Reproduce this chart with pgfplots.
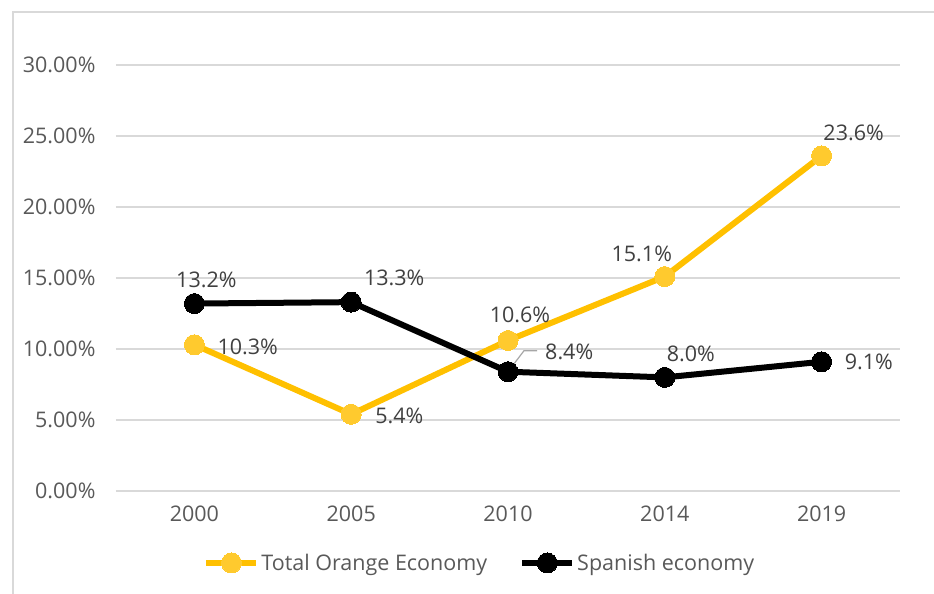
\documentclass[border=0pt]{standalone}
\usepackage{pgfplots}
\pgfplotsset{compat=1.18}
\usepackage{fontspec}
\setmainfont{Open Sans}
\definecolor{orangeline}{HTML}{FFC000}
\definecolor{orangemark}{HTML}{FFCA2E}
\definecolor{lbl}{HTML}{404040}
\definecolor{tickc}{HTML}{595959}
\definecolor{gridc}{HTML}{D9D9D9}
\begin{document}
\begin{tikzpicture}
\begin{axis}[
  scale only axis, width=784pt, height=426pt,
  xmin=-0.5, xmax=4.5, ymin=0, ymax=30,
  axis line style={draw=none}, tick style={draw=none},
  ymajorgrids, grid style={gridc, line width=1.5pt},
  xtick={0,1,2,3,4}, xticklabels={2000,2005,2010,2014,2019},
  ytick={0,5,10,15,20,25,30},
  yticklabels={0.00\%,5.00\%,10.00\%,15.00\%,20.00\%,25.00\%,30.00\%},
  tick label style={font=\fontsize{21.5}{25}\selectfont, text=tickc},
  xticklabel style={yshift=-11pt},
  yticklabel style={xshift=-17pt},
  clip=false,
  legend style={at={(0.464,-0.169)}, anchor=center, draw=none, fill=none,
    font=\fontsize{21.5}{25}\selectfont, text=tickc,
    /tikz/every even column/.append style={column sep=30pt}},
  legend columns=2,
  legend image code/.code={\draw[#1, mark repeat=2, mark phase=2] plot coordinates {(0pt,0pt) (25pt,0pt) (50pt,0pt)};},
]
\addplot[orangeline, line width=6pt, mark=*, mark size=10pt,
  mark options={draw=orangemark, fill=orangemark, line width=0pt}]
  coordinates {(0,10.3) (1,5.4) (2,10.6) (3,15.1) (4,23.6)};
\addlegendentry{Total Orange Economy}
\addplot[black, line width=6pt, mark=*, mark size=10pt,
  mark options={draw=black, fill=black, line width=0pt}]
  coordinates {(0,13.2) (1,13.3) (2,8.4) (3,8.0) (4,9.1)};
\addlegendentry{Spanish economy}
% leader line
\draw[gray!70, line width=1.2pt] (axis cs:2,8.4) -- ++(16pt,21pt) -- ++(13pt,0pt);
\begin{scope}[every node/.style={font=\fontsize{21.5}{25}\selectfont, text=lbl, inner sep=0pt}]
\node[anchor=west] at ([shift={(23pt,-2pt)}]axis cs:0,10.3) {10.3\%};
\node[anchor=west] at ([shift={(24pt,-2pt)}]axis cs:1,5.4) {5.4\%};
\node at ([shift={(12pt,26pt)}]axis cs:2,10.6) {10.6\%};
\node at ([shift={(-23pt,23pt)}]axis cs:3,15.1) {15.1\%};
\node at ([shift={(32pt,23pt)}]axis cs:4,23.6) {23.6\%};
\node at ([shift={(12pt,24pt)}]axis cs:0,13.2) {13.2\%};
\node at ([shift={(43pt,24pt)}]axis cs:1,13.3) {13.3\%};
\node[anchor=west] at ([shift={(37pt,20pt)}]axis cs:2,8.4) {8.4\%};
\node at ([shift={(26pt,24pt)}]axis cs:3,8.0) {8.0\%};
\node[anchor=west] at ([shift={(23pt,0pt)}]axis cs:4,9.1) {9.1\%};
\end{scope}
\end{axis}
\path[use as bounding box] (-116pt,-103pt) rectangle (818pt,491pt);
\draw[gridc, line width=1.5pt] (-103pt,-103pt) -- (-103pt,479pt) -- (818pt,479pt);
\end{tikzpicture}
\end{document}
